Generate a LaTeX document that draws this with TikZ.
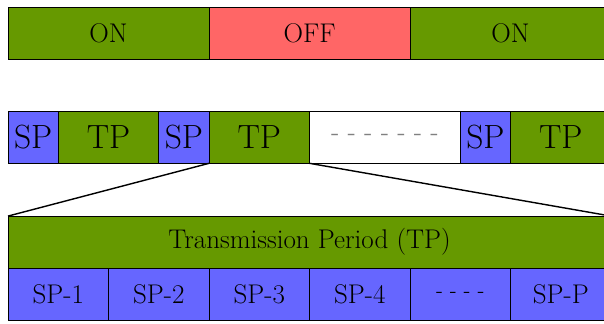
\documentclass[tikz,border=0pt]{standalone}
\usepackage{amsmath}
\usepackage{tikz}
\usetikzlibrary{positioning}
\tikzset{box/.style = {draw, inner sep = 0, outer sep = 0, minimum height = 1.04cm, anchor = north west}}
\tikzset{big/.style = {font = \fontsize{15.3}{18}\selectfont}}
\tikzset{huge/.style = {font = \fontsize{19}{22}\selectfont}}
\definecolor{mgreen}{RGB}{102, 153, 0}
\definecolor{mblue}{RGB}{102, 102, 255}
\definecolor{mred}{RGB}{255, 102, 102}

\begin{document}
\begin{tikzpicture}
          \useasboundingbox (-0.16, 0.15) rectangle (11.86, -6.28);

          \node [box, big, fill = mgreen, minimum width = 4cm] (on1) at (0, 0) {ON};
          \node [box, big, fill = mred, minimum width = 4cm] (off) at (4, 0) {OFF};
          \node [box, big, fill = mgreen, minimum width = 4cm] (on2) at (8, 0) {ON};

          \node [box, huge, fill = mblue, minimum width = 1cm] (sp1) at (0, -2.06) {SP};
          \node [box, huge, fill = mgreen, minimum width = 2cm] (tp1) at (1, -2.06) {TP};
          \node [box, huge, fill = mblue, minimum width = 1cm] (sp2) at (3, -2.06) {SP};
          \node [box, huge, fill = mgreen, minimum width = 2cm] (tp2) at (4, -2.06) {TP};
          \node [box, fill = white, minimum width = 3cm] (gap) at (6, -2.06) {\Large\color{gray} - - - - - - -};
          \node [box, huge, fill = mblue, minimum width = 1cm] (sp3) at (9, -2.06) {SP};
          \node [box, huge, fill = mgreen, minimum width = 2cm] (tp3) at (10, -2.06) {TP};

          \node [box, big, fill = mgreen, minimum width = 12cm] (tpall) at (0, -4.15) {Transmission Period (TP)};

          \node [box, big, fill = mblue, minimum width = 2cm] (spa) at (0, -5.19) {SP-1};
          \node [box, big, fill = mblue, minimum width = 2cm] (spb) at (2, -5.19) {SP-2};
          \node [box, big, fill = mblue, minimum width = 2cm] (spc) at (4, -5.19) {SP-3};
          \node [box, big, fill = mblue, minimum width = 2cm] (spd) at (6, -5.19) {SP-4};
          \node [box, fill = mblue, minimum width = 2cm] (spdots) at (8, -5.19) {\large - - - -};
          \node [box, big, fill = mblue, minimum width = 2cm] (spp) at (10, -5.19) {SP-P};

          \draw [thick] (tp2.south west) -- (tpall.north west);
          \draw [thick] (tp2.south east) -- (tpall.north east);
        \end{tikzpicture}
\end{document}
